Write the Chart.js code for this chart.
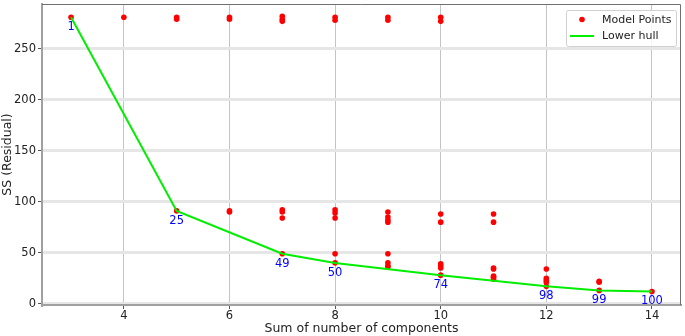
<!DOCTYPE html>
<html>
<head>
<meta charset="utf-8">
<script src="https://cdn.jsdelivr.net/npm/chart.js@4"></script>
<style>
  html, body { margin: 0; padding: 0; background: #fff; }
  #wrap { width: 685px; height: 336px; }
</style>
</head>
<body>
<div id="wrap"><canvas id="chart" width="685" height="336"></canvas></div>
<script>
// model points: x = sum of number of components, y = residual SS
const componentSums = [
  3, 4,
  5, 5, 5,
  6, 6, 6, 6,
  7, 7, 7, 7, 7, 7, 7,
  8, 8, 8, 8, 8, 8, 8,
  9, 9, 9, 9, 9, 9, 9, 9, 9, 9,
  10, 10, 10, 10, 10, 10, 10, 10,
  11, 11, 11, 11, 11, 11, 11,
  12, 12, 12, 12, 12,
  13, 13, 13,
  14
];
const residualSS = [
  281, 281,
  281, 279, 91,
  281, 279, 91, 90,
  282, 279, 277, 92, 90, 84, 49,
  281, 278, 92, 89, 84, 49, 40,
  281, 278, 90, 85, 82, 80, 49, 40, 37, 36,
  281, 277, 88, 80, 39, 37, 35, 28,
  88, 80, 35, 34, 27, 26, 24,
  34, 25, 23, 21, 17,
  22, 21, 13,
  12
];

// lower hull
const hullX = [3, 5, 7, 8, 10, 12, 13, 14];
const hullY = [281, 91, 49, 40, 28, 17, 13, 12];
const hullLabels = ['1', '25', '49', '50', '74', '98', '99', '100'];

const xTicks = [4, 6, 8, 10, 12, 14];
const yTicks = [0, 50, 100, 150, 200, 250];

const FONT = 'DejaVu Sans';

const pointData = componentSums.map((x, i) => ({ x: x, y: residualSS[i] }));
const hullData = hullX.map((x, i) => ({ x: x, y: hullY[i] }));

// blue model number under each hull point
const hullLabelPlugin = {
  id: 'hullLabels',
  afterDatasetsDraw(chart) {
    const ctx = chart.ctx;
    const xs = chart.scales.x, ys = chart.scales.y;
    ctx.save();
    ctx.font = '11.5px ' + FONT;
    ctx.fillStyle = '#0000ff';
    ctx.textAlign = 'center';
    ctx.textBaseline = 'alphabetic';
    hullX.forEach((x, i) => {
      const px = xs.getPixelForValue(x);
      const py = ys.getPixelForValue(hullY[i]);
      ctx.fillText(hullLabels[i], px, py + 13);
    });
    ctx.restore();
  }
};

// frame on top/right + legend box inside the plot
const frameLegendPlugin = {
  id: 'frameLegend',
  afterDraw(chart) {
    const ctx = chart.ctx;
    const a = chart.chartArea;
    ctx.save();
    ctx.strokeStyle = '#707070';
    ctx.lineWidth = 1;
    ctx.beginPath();
    ctx.moveTo(a.left, a.top + 0.5);
    ctx.lineTo(a.right - 0.5, a.top + 0.5);
    ctx.lineTo(a.right - 0.5, a.bottom);
    ctx.stroke();

    const bw = 110, bh = 36;
    const bx = a.right - 5 - bw, by = a.top + 6;
    ctx.fillStyle = 'rgba(255,255,255,0.85)';
    ctx.strokeStyle = '#d0d0d0';
    ctx.beginPath();
    ctx.roundRect(bx + 0.5, by + 0.5, bw, bh, 2);
    ctx.fill();
    ctx.stroke();

    const ds = chart.data.datasets;
    ctx.font = '11px ' + FONT;
    ctx.textAlign = 'left';
    ctx.textBaseline = 'middle';
    // row 1: points
    ctx.fillStyle = ds[0].backgroundColor;
    ctx.beginPath();
    ctx.arc(bx + 16, by + 9.5, 2.8, 0, Math.PI * 2);
    ctx.fill();
    ctx.fillStyle = '#222';
    ctx.fillText(ds[0].label, bx + 36, by + 10);
    // row 2: line
    ctx.strokeStyle = ds[1].borderColor;
    ctx.lineWidth = 2;
    ctx.beginPath();
    ctx.moveTo(bx + 4, by + 26);
    ctx.lineTo(bx + 28, by + 26);
    ctx.stroke();
    ctx.fillText(ds[1].label, bx + 36, by + 26);
    ctx.restore();
  }
};

new Chart(document.getElementById('chart'), {
  type: 'scatter',
  data: {
    datasets: [
      {
        label: 'Model Points',
        data: pointData,
        backgroundColor: '#ff0000',
        borderColor: '#ff0000',
        pointRadius: 2.8,
        borderWidth: 0,
        order: 1
      },
      {
        label: 'Lower hull',
        data: hullData,
        showLine: true,
        borderColor: '#00ee00',
        backgroundColor: '#00ee00',
        borderWidth: 2,
        pointRadius: 0,
        order: 0
      }
    ]
  },
  options: {
    responsive: false,
    animation: false,
    events: [],
    layout: { padding: { top: 0, right: 2, left: 0, bottom: 0 } },
    plugins: {
      legend: { display: false },
      tooltip: { enabled: false }
    },
    scales: {
      x: {
        type: 'linear',
        min: 2.45,
        max: 14.55,
        afterBuildTicks: (s) => { s.ticks = xTicks.map(v => ({ value: v })); },
        afterFit: (s) => { s.height = 31; s.paddingLeft = 0; s.paddingRight = 0; },
        grid: { color: '#c4c4c4', lineWidth: 1, tickLength: 4, tickColor: '#555', tickWidth: 1 },
        border: { color: '#a0a0a0', width: 2 },
        ticks: { color: '#222', font: { family: FONT, size: 11.5 }, padding: 0, maxRotation: 0 },
        title: {
          display: true,
          text: 'Sum of number of components',
          color: '#222',
          font: { family: FONT, size: 12.5 },
          padding: { top: 0, bottom: 0 }
        }
      },
      y: {
        type: 'linear',
        min: -1.3,
        max: 294,
        afterBuildTicks: (s) => { s.ticks = yTicks.map(v => ({ value: v })); },
        afterFit: (s) => { s.width = 42; s.paddingTop = 0; s.paddingBottom = 0; },
        grid: { color: '#e6e6e6', lineWidth: 3, tickLength: 4, tickColor: '#555', tickWidth: 1 },
        border: { color: '#a0a0a0', width: 2 },
        ticks: { color: '#222', font: { family: FONT, size: 11.5 }, padding: 2 },
        title: {
          display: true,
          text: 'SS (Residual)',
          color: '#222',
          font: { family: FONT, size: 12.5 },
          padding: { top: 0, bottom: 0 }
        }
      }
    }
  },
  plugins: [hullLabelPlugin, frameLegendPlugin]
});
</script>
</body>
</html>
